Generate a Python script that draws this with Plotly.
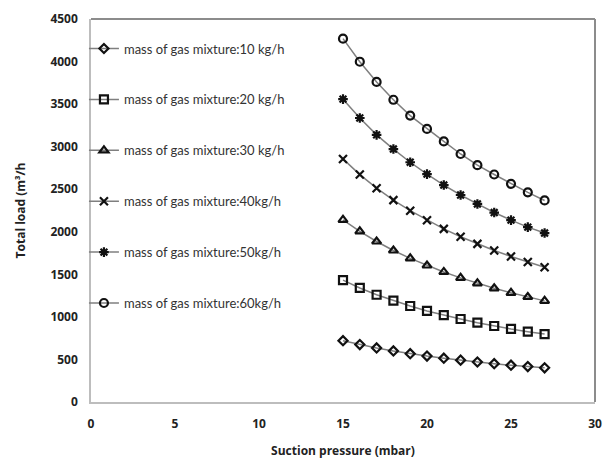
import plotly.graph_objects as go

pressure = [15, 16, 17, 18, 19, 20, 21, 22, 23, 24, 25, 26, 27]

load_10 = [720, 675, 635, 600, 568, 540, 515, 492, 470, 450, 432, 416, 402]
load_20 = [1432, 1340, 1260, 1190, 1128, 1070, 1020, 975, 932, 893, 858, 826, 798]
load_30 = [2140, 2005, 1886, 1780, 1688, 1604, 1528, 1458, 1394, 1336, 1283, 1234, 1188]
load_40 = [2856, 2672, 2512, 2372, 2248, 2136, 2034, 1942, 1858, 1780, 1710, 1644, 1584]
load_50 = [3558, 3337, 3139, 2972, 2817, 2677, 2549, 2432, 2327, 2226, 2137, 2055, 1985]
load_60 = [4269, 3998, 3761, 3551, 3365, 3209, 3062, 2914, 2782, 2673, 2564, 2463, 2368]

series_names = [
    "mass of gas mixture:10 kg/h",
    "mass of gas mixture:20 kg/h",
    "mass of gas mixture:30 kg/h",
    "mass of gas mixture:40kg/h",
    "mass of gas mixture:50kg/h",
    "mass of gas mixture:60kg/h",
]
series_values = [load_10, load_20, load_30, load_40, load_50, load_60]
symbols = ["diamond-open", "square-open", "triangle-up-open", "x-thin-open", "asterisk-open", "circle-open"]
sizes = [7, 8, 8, 8, 8, 8]

x_ticks = [0, 5, 10, 15, 20, 25, 30]
y_ticks = [0, 500, 1000, 1500, 2000, 2500, 3000, 3500, 4000, 4500]

FONT = "Lato, Open Sans, sans-serif"
BOLD_FONT = "Open Sans, Lato, sans-serif"

fig = go.Figure()
for i, (name, vals, sym, sz) in enumerate(zip(series_names, series_values, symbols, sizes)):
    fig.add_trace(go.Scatter(
        x=pressure, y=vals, name=name, mode="lines+markers",
        legendgroup=f"g{i}",
        line=dict(color="#7f7f7f", width=1.5),
        marker=dict(symbol=sym, size=sz, color="#111111", line=dict(color="#111111", width=2.2)),
    ))

fig.update_layout(
    width=612, height=469,
    margin=dict(l=91, r=10, t=16, b=67),
    paper_bgcolor="white", plot_bgcolor="white",
    font=dict(family=FONT, color="#222222"),
    showlegend=True,
    legend=dict(
        x=-0.014, y=0.962, xanchor="left", yanchor="top",
        bgcolor="rgba(0,0,0,0)", borderwidth=0,
        font=dict(size=13, family=FONT, color="#333333"),
        tracegroupgap=31, itemwidth=30,
    ),
    xaxis=dict(
        range=[0, 30], tickvals=x_ticks, ticktext=[str(v) for v in x_ticks],
        showgrid=False, zeroline=False,
        showline=True, linecolor="#bdbdbd", linewidth=1.5, mirror=False,
        ticks="", ticklabelstandoff=10,
        tickfont=dict(size=12, family=BOLD_FONT, color="#222222", weight="bold"),
        title=dict(text="Suction pressure (mbar)", font=dict(size=12, family=BOLD_FONT, weight="bold", color="#222222"), standoff=15),
    ),
    yaxis=dict(
        range=[0, 4500], tickvals=y_ticks, ticktext=[str(v) for v in y_ticks],
        showgrid=False, zeroline=False,
        showline=True, linecolor="#bdbdbd", linewidth=1.5, mirror=False,
        ticks="", ticklabelstandoff=9,
        tickfont=dict(size=12, family=BOLD_FONT, color="#222222", weight="bold"),
        title=dict(text="Total load (m³/h", font=dict(size=12, family=BOLD_FONT, weight="bold", color="#222222"), standoff=22),
    ),
    shapes=[
        dict(type="line", xref="paper", yref="paper", x0=0, x1=1, y0=1, y1=1, line=dict(color="#8c8c8c", width=2)),
        dict(type="line", xref="paper", yref="paper", x0=1, x1=1, y0=0, y1=1, line=dict(color="#8c8c8c", width=2)),
    ],
)

fig.write_html("out.html")
